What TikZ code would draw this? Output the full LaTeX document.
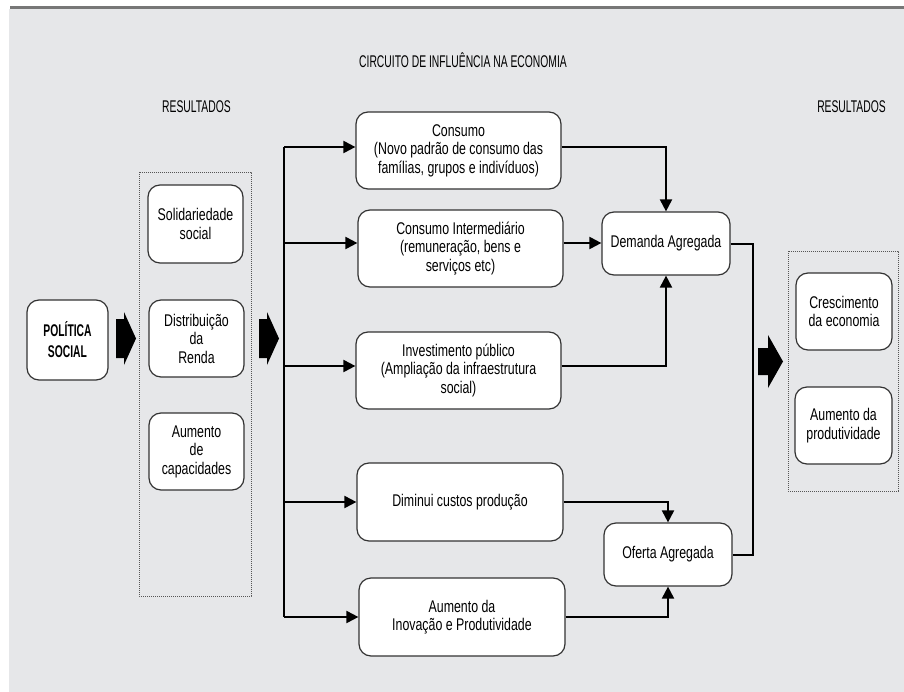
\documentclass[tikz,border=0pt]{standalone}
\usepackage{fontspec}
\setmainfont{Liberation Sans}[FakeStretch=0.73]
\newfontfamily\capsfont{Liberation Sans}[FakeStretch=0.61]
\usetikzlibrary{arrows.meta}
\definecolor{bgc}{HTML}{E6E7E9}
\definecolor{topc}{HTML}{777777}
\definecolor{boxc}{HTML}{333333}
\definecolor{dotc}{HTML}{555555}
\tikzset{
  box/.style={draw=boxc, line width=1.2bp, rounded corners=12bp, fill=white,
    align=center, inner sep=0pt, font=\fontsize{17}{18.6}\selectfont},
  capslabel/.style={font=\capsfont\fontsize{17}{18.6}\selectfont, inner sep=0pt},
  conn/.style={draw=black, line width=2bp},
  arr/.style={conn, -{Triangle[length=12bp,width=12bp]}},
  dotbox/.style={draw=dotc, line width=0.8bp, dash pattern=on 0.8bp off 1.2bp},
  blockarrow/.style={fill=black}
}
\begin{document}
\begin{tikzpicture}[x=1bp,y=-1bp]
\useasboundingbox (0,0) rectangle (904,692);
\fill[bgc] (9,9) rectangle (904,692);
\fill[topc] (10,6) rectangle (904,9.5);

% titles
\node[capslabel] (title) at (463,60) {CIRCUITO DE INFLUÊNCIA NA ECONOMIA};
\node[capslabel] (resl) at (196.5,107) {RESULTADOS};
\node[capslabel] (resr) at (851.5,107) {RESULTADOS};

% dotted groups
\draw[dotbox] (139,172) rectangle (251,596);
\draw[dotbox] (788,251) rectangle (898,491);

% left column
\node[box, minimum width=81bp, minimum height=80bp, font=\capsfont\bfseries\fontsize{17}{21}\selectfont] (pol) at (67.5,340) {POLÍTICA\\SOCIAL};
\node[box, minimum width=95bp, minimum height=78bp] (sol) at (195.5,224) {Solidariedade\\social};
\node[box, minimum width=95bp, minimum height=77bp] (dist) at (196.5,338.5) {Distribuição\\da\\Renda};
\node[box, minimum width=95bp, minimum height=77bp] (aum) at (196.5,451.5) {Aumento\\de\\capacidades};

% middle column
\node[box, minimum width=205bp, minimum height=77bp] (cons) at (458.5,150.5) {Consumo\\(Novo padrão de consumo das\\famílias, grupos e indivíduos)};
\node[box, minimum width=205bp, minimum height=77bp] (ci) at (460.5,248.5) {Consumo Intermediário\\(remuneração, bens e\\serviços etc)};
\node[box, minimum width=205bp, minimum height=77bp] (inv) at (458.5,370.5) {Investimento público\\(Ampliação da infraestrutura\\social)};
\node[box, minimum width=206bp, minimum height=78bp] (dim) at (460,502) {Diminui custos produção};
\node[box, minimum width=206bp, minimum height=78bp] (inov) at (462,617) {Aumento da\\Inovação e Produtividade};

% aggregates
\node[box, minimum width=128bp, minimum height=63bp] (dem) at (666,243.5) {Demanda Agregada};
\node[box, minimum width=128bp, minimum height=63bp] (ofe) at (668,554.5) {Oferta Agregada};

% right column
\node[box, minimum width=96bp, minimum height=77bp] (cres) at (844,311.5) {Crescimento\\da economia};
\node[box, minimum width=97bp, minimum height=77bp] (prod) at (843.5,425.5) {Aumento da\\produtividade};

% block arrows
\fill[blockarrow] (116,319) -- (124,319) -- (124,312) -- (136,338.5) -- (124,365) -- (124,358) -- (116,358) -- cycle;
\fill[blockarrow] (259,319) -- (267,319) -- (267,312) -- (279,338.5) -- (267,365) -- (267,358) -- (259,358) -- cycle;
\fill[blockarrow] (758,348) -- (768,348) -- (768,335) -- (783,361.5) -- (768,388) -- (768,375) -- (758,375) -- cycle;

% distribution trunk
\coordinate (j1) at (284,147);
\coordinate (j2) at (284,243);
\coordinate (j3) at (284,366);
\coordinate (j4) at (284,502);
\coordinate (j5) at (284,617);
\draw[conn] (j1) -- (j5);
\draw[arr] (j1) -- (j1 -| cons.west);
\draw[arr] (j2) -- (j2 -| ci.west);
\draw[arr] (j3) -- (j3 -| inv.west);
\draw[arr] (j4) -- (j4 -| dim.west);
\draw[arr] (j5) -- (j5 -| inov.west);

% to aggregates
\draw[arr] (j1 -| cons.east) -| (dem.north);
\draw[arr] (j2 -| ci.east) -- (j2 -| dem.west);
\draw[arr] (j3 -| inv.east) -| (dem.south);
\draw[arr] (j4 -| dim.east) -| (ofe.north);
\draw[arr] (j5 -| inov.east) -| (ofe.south);

% join of aggregates
\coordinate (rr) at (753,400);
\draw[conn] (dem.east) -- (dem.east -| rr) |- (ofe.east);
\end{tikzpicture}
\end{document}
